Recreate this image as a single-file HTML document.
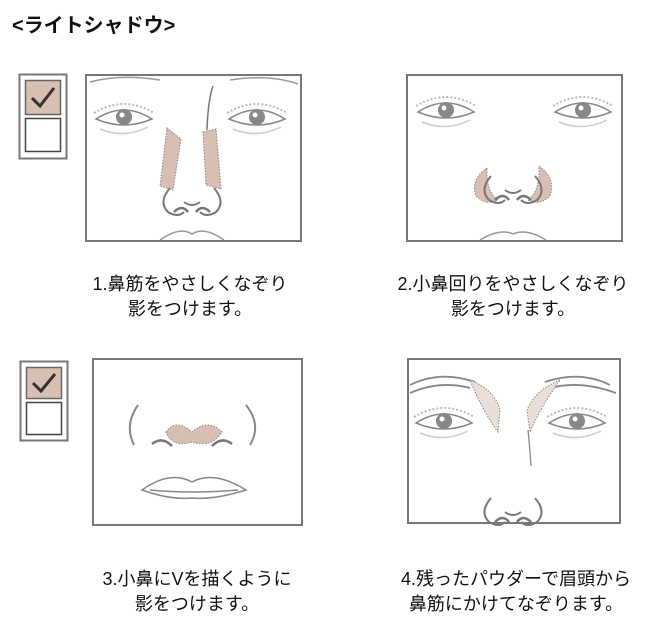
<!DOCTYPE html>
<html><head><meta charset="utf-8"><style>
body{margin:0;background:#fff;width:650px;height:635px;overflow:hidden}
svg{display:block}
text{font-family:"Liberation Sans","Noto Sans CJK JP",sans-serif;fill:#111}
</style></head><body>
<svg width="650" height="635" viewBox="0 0 650 635" xmlns="http://www.w3.org/2000/svg">
<defs>
<g id="eyeL">
<path d="M-28 2 Q0 -16 28 2 Q0 14 -28 2Z" fill="#fff" stroke="#888" stroke-width="1.5"/>
<path d="M-30 -4 Q0 -22 30 -4" fill="none" stroke="#bbb" stroke-width="2" stroke-dasharray="2 2"/>
<circle cx="0" cy="0" r="8" fill="#888"/><circle cx="-2" cy="-2" r="2.5" fill="#fff"/>
<path d="M-24 12 Q0 22 24 10" fill="none" stroke="#ccc" stroke-width="1.5"/>
</g>
<g id="nose">
<path d="M-22 -12 Q-34 2 -24 12 Q-14 18 -8 12" fill="none" stroke="#777" stroke-width="2"/>
<path d="M22 -12 Q34 2 24 12 Q14 18 8 12" fill="none" stroke="#777" stroke-width="2"/>
<path d="M-8 2 Q0 8 8 2" fill="none" stroke="#777" stroke-width="2"/>
<path d="M-18 12 Q-10 4 -4 12" fill="none" stroke="#777" stroke-width="2.5"/>
<path d="M18 12 Q10 4 4 12" fill="none" stroke="#777" stroke-width="2.5"/>
</g>
</defs>

<text x="12" y="32" font-size="20" font-weight="bold">&lt;ライトシャドウ&gt;</text>

<rect x="19.5" y="74.5" width="47" height="84" fill="#fff" stroke="#777" stroke-width="2"/>
<rect x="25.5" y="80.5" width="35" height="34" fill="#d8bfb3" stroke="#666" stroke-width="1.5"/>
<path d="M32 98 L40 106 L54 88" fill="none" stroke="#333" stroke-width="3"/>
<rect x="25.5" y="118.5" width="35" height="33" fill="#fff" stroke="#444" stroke-width="1.5"/>

<rect x="86" y="75" width="215" height="166" fill="#fff" stroke="#777" stroke-width="2"/>
<path d="M90 82 Q120 74 160 80 M230 80 Q270 74 298 84" fill="none" stroke="#999" stroke-width="1.5"/>
<path d="M213 86 Q208 100 207 130" fill="none" stroke="#777" stroke-width="1.5"/>
<use href="#eyeL" x="124" y="117"/><use href="#eyeL" x="257" y="117"/>
<path d="M167 128 L181 139 L173 190 L160 186Z" fill="#d8bfb3" stroke="#888" stroke-width="1" stroke-dasharray="1.5 1.5"/>
<path d="M203 132 L216 129 L221 189 L206 185Z" fill="#d8bfb3" stroke="#888" stroke-width="1" stroke-dasharray="1.5 1.5"/>
<use href="#nose" x="192" y="200"/>
<path d="M160 240 Q180 226 192 234 Q204 226 224 240" fill="none" stroke="#999" stroke-width="1.5"/>

<rect x="407" y="75" width="215" height="166" fill="#fff" stroke="#777" stroke-width="2"/>
<use href="#eyeL" x="446" y="110"/><use href="#eyeL" x="583" y="110"/>
<path d="M487 168 Q470 180 476 196 Q486 206 498 200 Q486 192 487 168Z" fill="#d8bfb3" stroke="#888" stroke-dasharray="1.5 1.5"/>
<path d="M539 166 Q556 178 550 196 Q540 206 528 200 Q540 192 539 166Z" fill="#d8bfb3" stroke="#888" stroke-dasharray="1.5 1.5"/>
<use href="#nose" x="513" y="188"/>
<path d="M480 240 Q500 228 513 234 Q526 228 546 240" fill="none" stroke="#999" stroke-width="1.5"/>

<text x="190" y="290" font-size="18" text-anchor="middle">1.鼻筋をやさしくなぞり</text>
<text x="190" y="315" font-size="18" text-anchor="middle">影をつけます。</text>
<text x="513" y="290" font-size="18" text-anchor="middle">2.小鼻回りをやさしくなぞり</text>
<text x="513" y="315" font-size="18" text-anchor="middle">影をつけます。</text>

<rect x="20.5" y="361.5" width="47" height="79" fill="#fff" stroke="#777" stroke-width="2"/>
<rect x="26.5" y="367.5" width="35" height="31" fill="#d8bfb3" stroke="#666" stroke-width="1.5"/>
<path d="M33 383 L41 391 L55 374" fill="none" stroke="#333" stroke-width="3"/>
<rect x="26.5" y="402.5" width="35" height="32" fill="#fff" stroke="#444" stroke-width="1.5"/>

<rect x="93" y="359" width="209" height="166" fill="#fff" stroke="#777" stroke-width="2"/>
<path d="M138 405 Q124 425 134 445 M246 405 Q262 425 250 445" fill="none" stroke="#888" stroke-width="2"/>
<path d="M166 432 Q176 418 192 432 Q208 418 222 432 Q212 448 192 442 Q172 448 166 432Z" fill="#d8bfb3" stroke="#888" stroke-dasharray="1.5 1.5"/>
<path d="M152 444 Q162 436 172 446 M232 444 Q222 436 212 446" fill="none" stroke="#777" stroke-width="2.5"/>
<path d="M142 490 Q170 470 192 482 Q214 470 246 490 Q214 500 192 498 Q170 500 142 490Z" fill="#fff" stroke="#888" stroke-width="1.5"/>
<path d="M150 490 Q192 494 238 490" fill="none" stroke="#888" stroke-width="1.5"/>

<rect x="408" y="359" width="212" height="164" fill="#fff" stroke="#777" stroke-width="2"/>
<path d="M410 385 Q440 370 475 382 M410 393 Q440 380 470 388 M610 385 Q580 370 545 382 M616 393 Q580 380 550 388" fill="none" stroke="#888" stroke-width="1.8"/>
<path d="M470 380 Q495 390 500 410 L498 432 Q482 410 470 380Z" fill="#eadfd8" stroke="#888" stroke-dasharray="1.5 1.5"/>
<path d="M560 380 Q535 390 527 410 L530 432 Q540 408 560 380Z" fill="#eadfd8" stroke="#888" stroke-dasharray="1.5 1.5"/>
<use href="#eyeL" x="444" y="421"/><use href="#eyeL" x="577" y="421"/>
<path d="M528 430 Q530 450 531 466" fill="none" stroke="#888" stroke-width="1.3"/>
<use href="#nose" x="513" y="510"/>

<text x="197" y="585" font-size="18" text-anchor="middle">3.小鼻にVを描くように</text>
<text x="197" y="610" font-size="18" text-anchor="middle">影をつけます。</text>
<text x="516" y="585" font-size="18" text-anchor="middle">4.残ったパウダーで眉頭から</text>
<text x="516" y="610" font-size="18" text-anchor="middle">鼻筋にかけてなぞります。</text>
</svg>
</body></html>
